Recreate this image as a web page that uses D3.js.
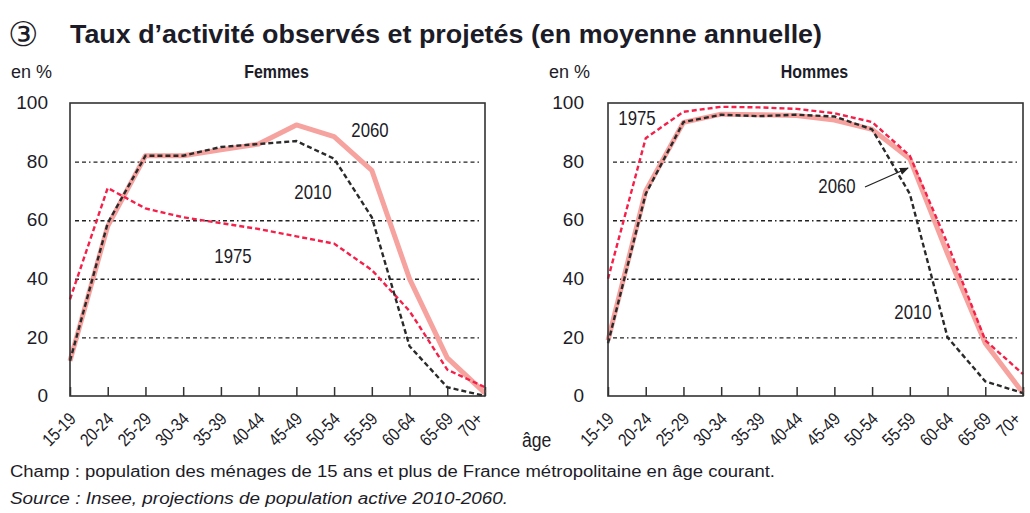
<!DOCTYPE html>
<html>
<head>
<meta charset="utf-8">
<script src="https://cdn.jsdelivr.net/npm/d3@7"></script>
<style>
  body { margin: 0; background: #fff; }
  svg text { fill: #1c1c28; }
</style>
</head>
<body>
<svg id="chart" width="1030" height="513"></svg>
<script>
// age groups on the x axis
const ages = ['15-19', '20-24', '25-29', '30-34', '35-39', '40-44', '45-49', '50-54', '55-59', '60-64', '65-69', '70+'];
const yTicks = [0, 20, 40, 60, 80, 100];

// activity rates, in %
const femmes1975 = [33, 71, 64, 61, 59, 57, 54.5, 52, 43, 29, 9, 3];
const femmes2010 = [12, 59, 82, 82, 85, 86, 87, 81, 61, 17, 3, 0];
const femmes2060 = [12, 58, 82, 82, 84, 86, 92.5, 88.5, 77, 40, 13, 1];

const hommes1975 = [40, 88, 97, 98.7, 98.5, 98, 96.5, 93.5, 82, 52, 19, 7.5];
const hommes2010 = [18, 69, 93.5, 96, 95.5, 96, 95.4, 91, 69, 20, 5, 1];
const hommes2060 = [19, 70, 93.4, 96.2, 96, 95.7, 94.2, 91, 81, 48.5, 18, 1];

const FONT = "'Liberation Sans', Arial, sans-serif";
const NARROW = 0.84; // horizontal squeeze to mimic a condensed face

const svg = d3.select('svg#chart');

// small helper: condensed text placed at (x, y)
function narrowText(parent, x, y, txt, size, anchor) {
    return parent.append('text')
        .attr('transform', `translate(${x},${y}) scale(${NARROW},1)`)
        .attr('text-anchor', anchor || 'start')
        .style('font-family', FONT)
        .style('font-size', size + 'px')
        .text(txt);
}

// title
svg.append('text')
    .attr('x', 8).attr('y', 46)
    .style('font-family', "'DejaVu Sans', sans-serif")
    .style('font-size', '34px')
    .style('font-weight', 'normal')
    .text('\u2462');
svg.append('text')
    .attr('x', 70).attr('y', 43)
    .attr('textLength', 752).attr('lengthAdjust', 'spacingAndGlyphs')
    .style('font-family', FONT)
    .style('font-weight', 'bold')
    .style('font-size', '26px')
    .text('Taux d\u2019activité observés et projetés (en moyenne annuelle)');

const plotW = 415, plotH = 293, plotTop = 103;

function drawPanel(left, title, s1975, s2010, s2060, unitX, tickRight) {
    const g = svg.append('g').attr('transform', `translate(${left},${plotTop})`);

    const x = d3.scalePoint().domain(ages).range([0, plotW]);
    const y = d3.scaleLinear().domain([0, 100]).range([plotH, 0]);

    // unit and panel title
    svg.append('text')
        .attr('x', unitX).attr('y', 78)
        .style('font-family', FONT).style('font-size', '18px')
        .text('en %');
    narrowText(svg, left + plotW / 2 - 1, 78, title, 19, 'middle')
        .style('font-weight', 'bold');

    // dash-dot gridlines
    const grid = g.append('g')
        .attr('transform', 'translate(5,0)')
        .call(d3.axisLeft(y).tickValues([20, 40, 60, 80]).tickSize(-(plotW - 10)).tickFormat(''));
    grid.select('.domain').remove();
    grid.selectAll('line')
        .attr('stroke', '#222')
        .attr('stroke-width', 1.4)
        .attr('stroke-dasharray', '4,3,4,3,1.5,3');

    // y tick labels
    const ya = g.append('g')
        .attr('transform', `translate(${tickRight - left},0)`)
        .call(d3.axisLeft(y).tickValues(yTicks).tickSize(0).tickPadding(0));
    ya.select('.domain').remove();
    ya.selectAll('text')
        .attr('dy', '0.3em')
        .style('font-family', FONT).style('font-size', '19px')
        .style('fill', '#1c1c28');

    // bottom axis with inward ticks
    const xa = g.append('g')
        .attr('transform', `translate(0,${plotH})`)
        .call(d3.axisBottom(x).tickSizeInner(-9).tickSizeOuter(0).tickFormat(''));
    xa.select('.domain').remove();
    xa.selectAll('line').attr('stroke', '#333').attr('stroke-width', 1.5);

    // rotated age labels (the last one kept inside the page)
    g.append('g').selectAll('text')
        .data(ages)
        .enter().append('text')
        .attr('transform', d => `translate(${Math.min(x(d) + 7, plotW - 1)},${plotH + 24}) rotate(-45) scale(${NARROW},1)`)
        .attr('text-anchor', 'end')
        .style('font-family', FONT).style('font-size', '18px')
        .text(d => d);

    const line = d3.line()
        .x((d, i) => x(ages[i]))
        .y(d => y(d));

    g.append('path')
        .datum(s2060)
        .attr('d', line)
        .attr('fill', 'none')
        .attr('stroke', '#f6a29e')
        .attr('stroke-width', 5)
        .attr('stroke-linejoin', 'round');
    g.append('path')
        .datum(s1975)
        .attr('d', line)
        .attr('fill', 'none')
        .attr('stroke', '#f5204a')
        .attr('stroke-width', 2.4)
        .attr('stroke-dasharray', '5,3');
    g.append('path')
        .datum(s2010)
        .attr('d', line)
        .attr('fill', 'none')
        .attr('stroke', '#2a2a2a')
        .attr('stroke-width', 2.4)
        .attr('stroke-dasharray', '5,3');

    // frame
    g.append('rect')
        .attr('width', plotW).attr('height', plotH)
        .attr('fill', 'none')
        .attr('stroke', '#333')
        .attr('stroke-width', 1.6);

    return g;
}

const gF = drawPanel(70, 'Femmes', femmes1975, femmes2010, femmes2060, 11, 48);
const gH = drawPanel(608, 'Hommes', hommes1975, hommes2010, hommes2060, 549, 584);

function seriesLabel(g, px, py, txt) {
    narrowText(g, px, py, txt, 20, 'middle');
}
seriesLabel(gF, 300, 34, '2060');
seriesLabel(gF, 243, 96, '2010');
seriesLabel(gF, 163, 160, '1975');
seriesLabel(gH, 29, 22, '1975');
seriesLabel(gH, 229, 90, '2060');
seriesLabel(gH, 305, 216, '2010');

// arrow pointing at the 2060 men's curve
svg.append('defs').append('marker')
    .attr('id', 'arrow')
    .attr('viewBox', '0 0 10 10')
    .attr('refX', 9).attr('refY', 5)
    .attr('markerWidth', 7).attr('markerHeight', 7)
    .attr('orient', 'auto')
    .append('path')
    .attr('d', 'M0,1 L10,5 L0,9 z')
    .attr('fill', '#222');
gH.append('line')
    .attr('x1', 257).attr('y1', 84)
    .attr('x2', 300).attr('y2', 65)
    .attr('stroke', '#222').attr('stroke-width', 1.3)
    .attr('marker-end', 'url(#arrow)');

// x axis title
narrowText(svg, 522, 447, 'âge', 21);

// footer
svg.append('text')
    .attr('x', 10).attr('y', 477)
    .attr('textLength', 765).attr('lengthAdjust', 'spacingAndGlyphs')
    .style('font-family', FONT).style('font-size', '16px')
    .text('Champ : population des ménages de 15 ans et plus de France métropolitaine en âge courant.');
svg.append('text')
    .attr('x', 10).attr('y', 504)
    .attr('textLength', 498).attr('lengthAdjust', 'spacingAndGlyphs')
    .style('font-family', FONT).style('font-size', '16px').style('font-style', 'italic')
    .text('Source :  Insee, projections de population active 2010-2060.');
</script>
</body>
</html>
